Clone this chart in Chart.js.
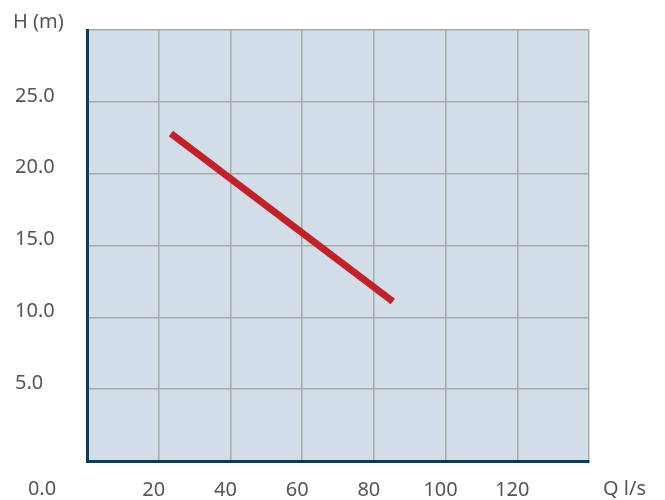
<!DOCTYPE html>
<html>
<head>
<meta charset="utf-8">
<script src="https://cdn.jsdelivr.net/npm/chart.js@4"></script>
<style>
  html, body { margin: 0; padding: 0; background: #fff; }
  #wrap { width: 665px; height: 500px; }
</style>
</head>
<body>
<div id="wrap"><canvas id="pumpCurve"></canvas></div>
<script>
// pump curve
const flowQ = [23.4, 85.3];     // Q l/s
const headH = [22.8, 11.1];     // H (m)
const xTicks = [20, 40, 60, 80, 100, 120];
const yTicks = [5, 10, 15, 20, 25];

const points = flowQ.map((q, i) => ({ x: q, y: headH[i] }));

const textColor = '#555555';
const navy = '#0f3a58';
const gridGrey = '#a3abab';
const labelFont = { family: 'Noto Sans', size: 20 };

// plot background + the extra labels outside the axes
const plotDecor = {
    id: 'plotDecor',
    beforeDraw(chart) {
        const { ctx, chartArea: a } = chart;
        ctx.save();
        ctx.fillStyle = '#d3dde7';
        ctx.fillRect(a.left, a.top, a.right - a.left, a.bottom - a.top);
        ctx.restore();
    },
    afterDraw(chart) {
        const { ctx, chartArea: a } = chart;
        ctx.save();
        ctx.fillStyle = textColor;
        ctx.font = '20px "Noto Sans"';
        ctx.textBaseline = 'middle';
        ctx.textAlign = 'left';
        ctx.fillText('H (m)', 13, 22);
        ctx.textAlign = 'center';
        ctx.fillText('0.0', 42, a.bottom + 28);
        ctx.textAlign = 'left';
        ctx.fillText('Q l/s', a.right + 14, a.bottom + 28);
        ctx.restore();
    }
};

new Chart(document.getElementById('pumpCurve'), {
    type: 'line',
    data: {
        datasets: [{
            label: 'H',
            data: points,
            borderColor: '#c1222a',
            borderWidth: 7,
            pointRadius: 0,
            fill: false,
            tension: 0,
        }]
    },
    options: {
        responsive: true,
        maintainAspectRatio: false,
        animation: false,
        layout: { padding: { left: 15, right: 76, top: 30, bottom: 0 } },
        scales: {
            x: {
                type: 'linear',
                min: 0,
                max: 140,
                afterFit: s => { s.height = 39; },
                afterBuildTicks: s => { s.ticks = [0, ...xTicks, 140].map(v => ({ value: v })); },
                grid: { color: gridGrey, lineWidth: 1.5, drawTicks: false },
                border: { color: navy, width: 3 },
                ticks: {
                    padding: 17,
                    labelOffset: -5,
                    maxRotation: 0,
                    color: textColor,
                    font: labelFont,
                    callback: v => xTicks.includes(v) ? String(v) : '',
                }
            },
            y: {
                min: 0,
                max: 30,
                afterFit: s => { s.width = 72; },
                afterBuildTicks: s => { s.ticks = [0, ...yTicks, 30].map(v => ({ value: v })); },
                grid: { color: gridGrey, lineWidth: 1.5, drawTicks: false },
                border: { color: navy, width: 3 },
                ticks: {
                    crossAlign: 'far',
                    labelOffset: -6,
                    color: textColor,
                    font: labelFont,
                    callback: v => yTicks.includes(v) ? v.toFixed(1) : '',
                }
            }
        },
        plugins: {
            legend: { display: false },
            tooltip: { enabled: false },
        }
    },
    plugins: [plotDecor]
});
</script>
</body>
</html>
